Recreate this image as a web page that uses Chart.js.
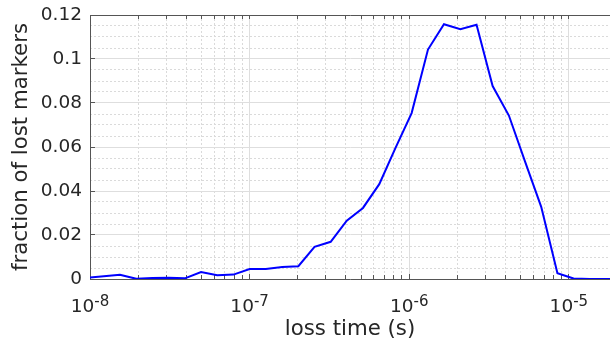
<!DOCTYPE html>
<html>
<head>
<meta charset="utf-8">
<script src="https://cdn.jsdelivr.net/npm/chart.js@4.4.1/dist/chart.umd.min.js"></script>
<style>
  html, body { margin: 0; padding: 0; background: #fff; overflow: hidden; }
  #wrap { width: 610px; height: 349px; }
</style>
</head>
<body>
<div id="wrap"><canvas id="lossChart" width="610" height="349"></canvas></div>
<script>
// loss time bins (s) and fraction of lost markers
const lossTimes = [
  9.66e-9, 1.22e-8, 1.54e-8, 1.95e-8, 2.46e-8, 3.11e-8, 3.93e-8, 4.96e-8, 6.27e-8, 7.92e-8,
  1.0e-7, 1.263e-7, 1.6e-7, 2.02e-7, 2.55e-7, 3.22e-7, 4.06e-7, 5.13e-7, 6.49e-7, 8.19e-7,
  1.035e-6, 1.31e-6, 1.65e-6, 2.09e-6, 2.64e-6, 3.33e-6, 4.21e-6, 5.31e-6, 6.71e-6, 8.48e-6,
  1.07e-5, 1.35e-5, 1.71e-5, 2.16e-5
];
const lostFractions = [
  0.0006, 0.0012, 0.0019, 0.0001, 0.0004, 0.0006, 0.0003, 0.0032, 0.0017, 0.0020,
  0.0045, 0.0045, 0.0055, 0.0058, 0.0146, 0.0169, 0.0265, 0.0323, 0.0431, 0.0595,
  0.0754, 0.1043, 0.1158, 0.1135, 0.1156, 0.0877, 0.0743, 0.0535, 0.0328, 0.0026,
  0.0002, 0, 0, 0
];

const xMin = 1e-8;
const xMax = 1.81e-5;
const xTickValues = [1e-8, 1e-7, 1e-6, 1e-5];
const xTickExponents = ['-8', '-7', '-6', '-5'];
const yTickValues = [0, 0.02, 0.04, 0.06, 0.08, 0.1, 0.12];
const yTickLabels = ['0', '0.02', '0.04', '0.06', '0.08', '0.1', '0.12'];

const fontFamily = "'DejaVu Sans', sans-serif";
const textColor = '#262626';
const axisColor = '#555555';
const majorGrid = '#dedede';
const minorGrid = '#dadada';

// minor log positions 2..9 x 10^n inside the axis range
const xMinorValues = [];
for (let e = -8; e <= -5; e++) {
  for (let m = 2; m <= 9; m++) {
    const v = m * Math.pow(10, e);
    if (v <= xMax) xMinorValues.push(v);
  }
}
const xAllValues = xTickValues.concat(xMinorValues);

// minor y grid every 0.005, leaving out the labelled ones
const yMinorValues = [];
for (let i = 1; i < 24; i++) {
  if (i % 4 !== 0) yMinorValues.push(i * 0.005);
}

// 10^n labels with a raised exponent, placed by the x scale
const powerLabels = {
  id: 'powerLabels',
  afterDraw(chart) {
    const s = chart.scales.x;
    const c = chart.ctx;
    c.save();
    c.fillStyle = textColor;
    c.textBaseline = 'alphabetic';
    c.textAlign = 'left';
    xTickValues.forEach((v, i) => {
      const px = s.getPixelForValue(v);
      c.font = '18.5px ' + fontFamily;
      const wb = c.measureText('10').width;
      c.font = '15px ' + fontFamily;
      const we = c.measureText(xTickExponents[i]).width;
      const left = px - (wb + we) / 2;
      c.font = '18.5px ' + fontFamily;
      c.fillText('10', left, s.top + 32.7);
      c.font = '15px ' + fontFamily;
      c.fillText(xTickExponents[i], left + wb, s.top + 26.5);
    });
    c.restore();
  }
};

const noEdgePadding = (s) => {
  s.paddingTop = 0; s.paddingBottom = 0; s.paddingLeft = 0; s.paddingRight = 0;
};

const ctx = document.getElementById('lossChart').getContext('2d');
new Chart(ctx, {
  type: 'line',
  data: {
    datasets: [{
      data: lossTimes.map((t, i) => ({ x: t, y: lostFractions[i] })),
      borderColor: '#0000ff',
      borderWidth: 2,
      pointRadius: 0,
      tension: 0,
      fill: false
    }]
  },
  options: {
    responsive: false,
    animation: false,
    devicePixelRatio: 1,
    layout: { padding: { top: 15, right: 0, bottom: 0, left: 0 } },
    plugins: { legend: { display: false }, tooltip: { enabled: false } },
    scales: {
      x: {
        type: 'logarithmic', position: 'bottom', weight: 0,
        min: xMin, max: xMax,
        afterBuildTicks: (s) => { s.ticks = xTickValues.map(v => ({ value: v })); },
        afterFit: (s) => { s.height = 70; noEdgePadding(s); },
        ticks: { display: false },
        grid: { color: majorGrid, lineWidth: 1, tickLength: -5, tickColor: axisColor, tickWidth: 1 },
        border: { color: axisColor, width: 1 },
        title: {
          display: true, text: 'loss time (s)', color: textColor,
          font: { family: fontFamily, size: 21.3 }, padding: { top: 0, bottom: 7 }
        }
      },
      xMinor: {
        type: 'logarithmic', position: 'bottom', weight: -1,
        min: xMin, max: xMax,
        afterBuildTicks: (s) => { s.ticks = xMinorValues.map(v => ({ value: v })); },
        afterFit: (s) => { s.height = 0; noEdgePadding(s); },
        ticks: { display: false },
        grid: { color: minorGrid, lineWidth: 1, tickLength: -4, tickColor: axisColor, tickWidth: 1 },
        border: { display: false, dash: [2, 2] }
      },
      xTop: {
        type: 'logarithmic', position: 'top', weight: 0,
        min: xMin, max: xMax,
        afterBuildTicks: (s) => { s.ticks = xAllValues.map(v => ({ value: v })); },
        afterFit: (s) => { s.height = 0; noEdgePadding(s); },
        ticks: { display: false },
        grid: { drawOnChartArea: false, tickLength: -4, tickColor: axisColor, tickWidth: 1 },
        border: { color: axisColor, width: 1 }
      },
      y: {
        type: 'linear', position: 'left', weight: 0,
        min: 0, max: 0.12,
        afterBuildTicks: (s) => { s.ticks = yTickValues.map(v => ({ value: v })); },
        afterFit: (s) => { s.width = 90; noEdgePadding(s); },
        ticks: {
          padding: 13, color: textColor, font: { family: fontFamily, size: 18.5 },
          callback: (v, i) => yTickLabels[i]
        },
        grid: { color: majorGrid, lineWidth: 1, tickLength: -5, tickColor: axisColor, tickWidth: 1 },
        border: { color: axisColor, width: 1 },
        title: {
          display: true, text: 'fraction of lost markers', color: textColor,
          font: { family: fontFamily, size: 21.3 }, padding: { top: 9, bottom: 0 }
        }
      },
      yMinor: {
        type: 'linear', position: 'left', weight: -1,
        min: 0, max: 0.12,
        afterBuildTicks: (s) => { s.ticks = yMinorValues.map(v => ({ value: v })); },
        afterFit: (s) => { s.width = 0; noEdgePadding(s); },
        ticks: { display: false },
        grid: { color: minorGrid, lineWidth: 1, drawTicks: false },
        border: { display: false, dash: [2, 2] }
      }
    }
  },
  plugins: [powerLabels]
});
</script>
</body>
</html>
